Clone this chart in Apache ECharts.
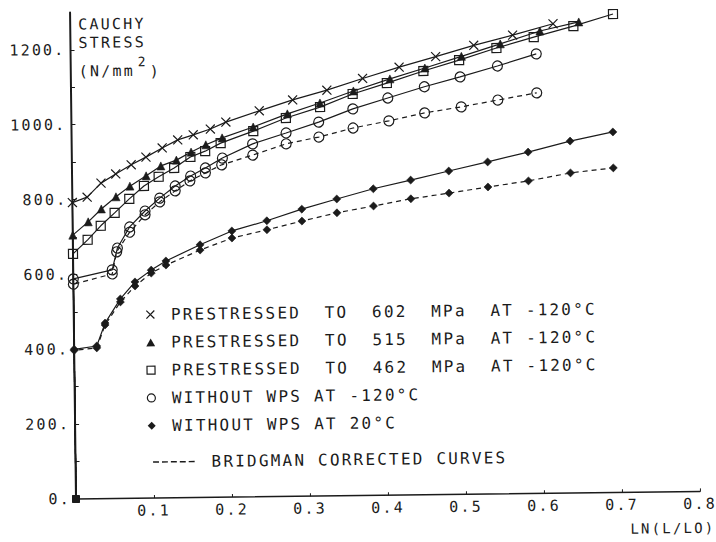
<!DOCTYPE html>
<html>
<head>
<meta charset="utf-8">
<script src="https://cdn.jsdelivr.net/npm/echarts@6/dist/echarts.min.js"></script>
<style>
html,body{margin:0;padding:0;background:#fff;overflow:hidden;width:716px;height:542px;}
#chart{position:absolute;left:0;top:0;width:740px;height:560px;transform:rotate(-0.7deg);transform-origin:76px 499px;}
#chart svg text{letter-spacing:2.2px;white-space:pre;}
</style>
</head>
<body>
<div id="chart"></div>
<script>
// ---- data (strain ln(L/L0), Cauchy stress N/mm^2) ----
const x602 = [0, 0, 0.019, 0.037, 0.056, 0.076, 0.095, 0.116, 0.136, 0.156, 0.178, 0.198, 0.241, 0.284, 0.328, 0.374, 0.421, 0.468, 0.517, 0.567, 0.619];
const s602 = [0, 792, 806, 843, 867, 891, 911, 935, 956, 969, 984, 1002, 1031, 1059, 1084, 1114, 1143, 1170, 1199, 1225, 1254];

const x515 = [0, 0, 0.020, 0.037, 0.056, 0.074, 0.095, 0.114, 0.134, 0.153, 0.172, 0.193, 0.233, 0.277, 0.319, 0.362, 0.409, 0.454, 0.501, 0.551, 0.602, 0.652];
const s515 = [0, 705, 740, 774, 806, 834, 861, 887, 902, 923, 942, 960, 988, 1022, 1050, 1081, 1112, 1140, 1170, 1202, 1235, 1258];

const x462 = [0, 0, 0.019, 0.036, 0.054, 0.073, 0.092, 0.111, 0.131, 0.152, 0.171, 0.191, 0.233, 0.275, 0.319, 0.361, 0.405, 0.452, 0.498, 0.546, 0.594, 0.645, 0.696];
const s462 = [0, 655, 692, 729, 763, 800, 834, 858, 881, 910, 925, 946, 977, 1011, 1039, 1073, 1101, 1132, 1160, 1191, 1219, 1247, 1278];

const xCold = [0, 0, 0.050, 0.057, 0.073, 0.093, 0.112, 0.132, 0.152, 0.171, 0.193, 0.232, 0.275, 0.317, 0.361, 0.406, 0.453, 0.499, 0.547, 0.597];
const sCold = [0, 588, 611, 669, 725, 767, 801, 833, 859, 880, 906, 943, 971, 999, 1033, 1061, 1090, 1115, 1143, 1174];
const xColdB = [0, 0, 0.050, 0.056, 0.073, 0.093, 0.112, 0.132, 0.151, 0.171, 0.192, 0.232, 0.275, 0.317, 0.361, 0.407, 0.453, 0.500, 0.547, 0.597];
const sColdB = [0, 574, 600, 659, 711, 757, 791, 820, 846, 867, 888, 913, 942, 959, 982, 1000, 1020, 1035, 1052, 1070];

const xRoom = [0, 0, 0.029, 0.040, 0.060, 0.079, 0.100, 0.119, 0.163, 0.204, 0.249, 0.294, 0.339, 0.386, 0.434, 0.483, 0.533, 0.585, 0.639, 0.694];
const sRoom = [0, 400, 408, 469, 533, 578, 609, 633, 675, 711, 737, 767, 793, 819, 841, 864, 887, 912, 940, 963];
const sRoomB = [0, 397, 403, 464, 525, 567, 601, 622, 661, 692, 713, 735, 756, 773, 791, 805, 820, 835, 855, 867];

const names = [
  'PRESTRESSED  TO  602  MPa  AT -120°C',
  'PRESTRESSED  TO  515  MPa  AT -120°C',
  'PRESTRESSED  TO  462  MPa  AT -120°C',
  'WITHOUT WPS AT -120°C',
  'WITHOUT WPS AT 20°C'
];
const bridgmanName = 'BRIDGMAN CORRECTED CURVES';
const yTitle = ['CAUCHY', 'STRESS', '(N/mm', '2', ')'];
const xTitle = 'LN(L/LO)';

// ---- styling ----
const FONT = 'DejaVu Sans Mono';
const INK = '#1b1b1b';
const CLEAR = 'rgba(0,0,0,0)';
const CROSS = 'path://M0,0L10,10M10,0L0,10';
const TRI = 'path://M5,0L10,9L0,9Z';
const SQR = 'path://M0,0H10V10H0Z';
const CIRC = 'path://M0,5A5,5 0 1,0 10,5A5,5 0 1,0 0,5Z';
const DIAM = 'path://M5,0L10,5L5,10L0,5Z';
const DASHES = 'path://M0,0h6v1.5h-6zM9,0h6v1.5h-6zM18,0h6v1.5h-6zM27,0h6v1.5h-6zM36,0h6v1.5h-6zM54,0v1.5';

function pts(xs, ys) {
  return xs.map((x, i) => i === 0
    ? { value: [x, ys[i]], symbol: 'rect', symbolSize: 7, itemStyle: { color: INK, borderColor: INK, borderWidth: 0 } }
    : [x, ys[i]]);
}
function curve(name, xs, ys, sym, size, filled, dashed, z) {
  return {
    type: 'line', name: name, data: pts(xs, ys),
    symbol: sym, symbolSize: size, showAllSymbol: true,
    itemStyle: filled ? { color: INK, borderColor: INK, borderWidth: 0.6 }
                      : { color: CLEAR, borderColor: INK, borderWidth: 1.2 },
    lineStyle: { color: INK, width: 1.2, type: dashed ? [5, 4] : 'solid' },
    emphasis: { disabled: true }, animation: false, z: z
  };
}

const chart = echarts.init(document.getElementById('chart'), null, { renderer: 'svg' });
const txt = { fontFamily: FONT, color: INK };

chart.setOption({
  backgroundColor: '#fff',
  animation: false,
  grid: { left: 76, top: 12.4, right: 40, bottom: 61 },
  xAxis: {
    type: 'value', min: 0, max: 0.8, interval: 0.1,
    axisLine: { show: true, onZero: false, lineStyle: { color: INK, width: 1.5 } },
    axisTick: { show: true, inside: true, length: 3, lineStyle: { color: INK } },
    splitLine: { show: false },
    axisLabel: Object.assign({ fontSize: 15, margin: 5, showMaxLabel: true,
      formatter: v => v === 0 ? '' : v.toFixed(1) }, txt)
  },
  yAxis: {
    type: 'value', min: 0, max: 1300, interval: 100,
    axisLine: { show: true, onZero: false, lineStyle: { color: INK, width: 2 } },
    axisTick: { show: true, inside: true, length: 4, lineStyle: { color: INK } },
    splitLine: { show: false },
    axisLabel: Object.assign({ fontSize: 15, margin: 5, showMaxLabel: false,
      formatter: v => (v % 200 === 0 ? v + '.' : '') }, txt)
  },
  legend: [
    {
      orient: 'vertical', left: 148, top: 307.5, padding: 0,
      itemWidth: 31, itemHeight: 8, itemGap: 11.8, selectedMode: false, symbolKeepAspect: true,
      textStyle: Object.assign({ fontSize: 16, lineHeight: 16 }, txt),
      data: [
        { name: names[0], icon: CROSS, itemStyle: { color: CLEAR, borderColor: INK, borderWidth: 1.2 } },
        { name: names[1], icon: TRI, itemStyle: { color: INK, borderColor: INK, borderWidth: 0 } },
        { name: names[2], icon: SQR, itemStyle: { color: CLEAR, borderColor: INK, borderWidth: 1.2 } },
        { name: names[3], icon: CIRC, itemStyle: { color: CLEAR, borderColor: INK, borderWidth: 1.2 } },
        { name: names[4], icon: DIAM, itemStyle: { color: INK, borderColor: INK, borderWidth: 0 } }
      ]
    },
    {
      orient: 'vertical', left: 153.5, top: 455, padding: 0,
      itemWidth: 53.5, itemHeight: 8, selectedMode: false, symbolKeepAspect: true,
      textStyle: Object.assign({ fontSize: 16, lineHeight: 16 }, txt),
      data: [{ name: bridgmanName, icon: DASHES, itemStyle: { color: INK, borderColor: INK, borderWidth: 0 } }]
    }
  ],
  graphic: [
    { type: 'text', left: 84, top: 17, style: { text: yTitle[0], fontFamily: FONT, fontSize: 15, fill: INK } },
    { type: 'text', left: 84, top: 35.5, style: { text: yTitle[1], fontFamily: FONT, fontSize: 15, fill: INK } },
    { type: 'text', left: 84, top: 64, style: { text: yTitle[2], fontFamily: FONT, fontSize: 15, fill: INK } },
    { type: 'text', left: 143, top: 56, style: { text: yTitle[3], fontFamily: FONT, fontSize: 13, fill: INK } },
    { type: 'text', left: 155, top: 65, style: { text: yTitle[4], fontFamily: FONT, fontSize: 15, fill: INK } },
    { type: 'text', left: 630, top: 528.5, style: { text: xTitle, fontFamily: FONT, fontSize: 14, fill: INK } }
  ],
  series: [
    curve(bridgmanName, xColdB, sColdB, 'circle', 10, false, true, 2),
    curve(bridgmanName, xRoom, sRoomB, 'diamond', 8, true, true, 2),
    curve(names[4], xRoom, sRoom, 'diamond', 8, true, false, 3),
    curve(names[3], xCold, sCold, 'circle', 10, false, false, 3),
    curve(names[2], x462, s462, 'rect', 9, false, false, 4),
    curve(names[1], x515, s515, 'triangle', 8, true, false, 5),
    curve(names[0], x602, s602, CROSS, 9, false, false, 6)
  ]
});
</script>
</body>
</html>
